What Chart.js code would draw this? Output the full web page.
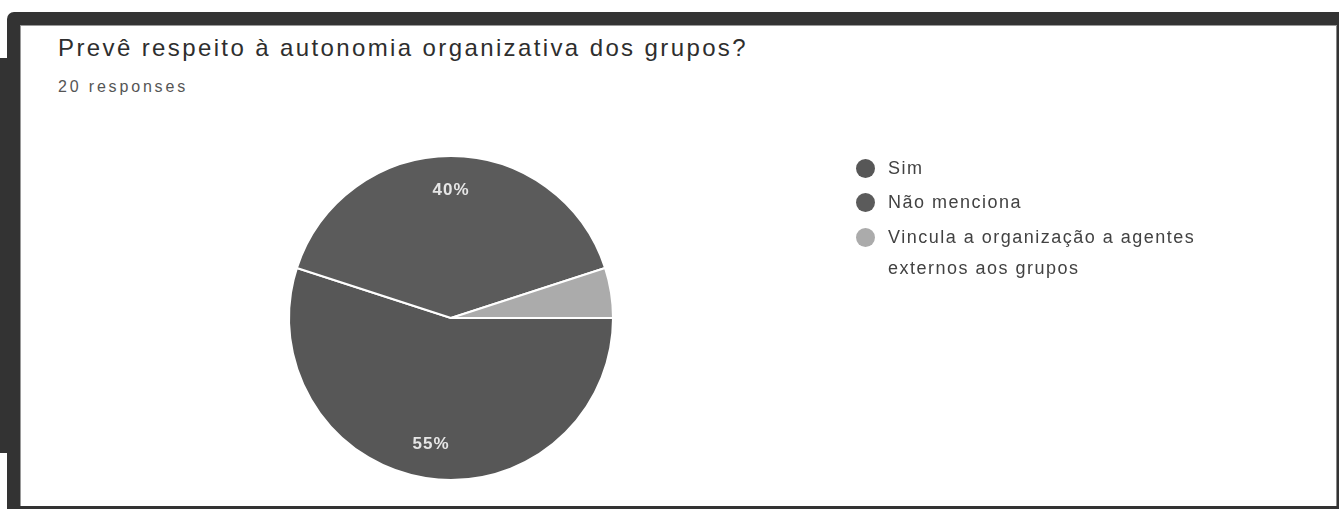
<!DOCTYPE html>
<html>
<head>
<meta charset="utf-8">
<script src="https://cdn.jsdelivr.net/npm/chart.js@4.4.1/dist/chart.umd.min.js"></script>
<style>
  html, body { margin: 0; padding: 0; background: #fff; }
  body { width: 1339px; height: 509px; position: relative; overflow: hidden;
         font-family: "Liberation Sans", Arial, sans-serif; }
  #frame { position: absolute; left: 7px; top: 12px; width: 1332px; height: 497px;
           background: #333; border-top-left-radius: 7px; }
  #leftbar { position: absolute; left: 0; top: 58px; width: 8px; height: 395px; background: #333; }
  #panel { position: absolute; left: 20px; top: 25px; width: 1317px; height: 481px; background: #fff;
           box-shadow: inset 1px 1px 0 #9a9a9a, inset -1px 0 0 #8a8a8a; }
  #title { position: absolute; left: 38px; top: 10.9px; font-size: 24px; line-height: 24px;
           color: #2e2e2e; white-space: nowrap; }
  #subtitle { position: absolute; left: 38px; top: 53.6px; font-size: 16px; line-height: 16px;
              color: #555; white-space: nowrap; }
  #chart { position: absolute; left: 0; top: 0; }
  #legend { position: absolute; left: 835px; top: 127.5px; display: flex; flex-direction: column; gap: 3.5px; }
  .item { position: relative; padding-left: 33px; font-size: 18px; line-height: 31px; color: #424242;
          letter-spacing: 1.5px; max-width: 330px; }
  .dot { position: absolute; left: 1px; top: 6px; width: 19px; height: 19px; border-radius: 50%; }
</style>
</head>
<body>
<div id="frame"></div>
<div id="leftbar"></div>
<div id="panel">
  <div id="title"></div>
  <div id="subtitle"></div>
  <canvas id="chart" width="1317" height="481"></canvas>
  <div id="legend"></div>
</div>
<script>
const titleText = 'Prevê respeito à autonomia organizativa dos grupos?';
const categories = ['Sim', 'Não menciona', 'Vincula a organização a agentes externos aos grupos'];
const responses = [11, 8, 1];
const sliceColors = ['#575757', '#5b5b5b', '#ababab'];

const total = responses.reduce((a, b) => a + b, 0);

// Title and subtitle
const titleEl = document.getElementById('title');
const subEl = document.getElementById('subtitle');
titleEl.textContent = titleText;
subEl.textContent = total + ' responses';
function fitWidth(el, target) {
  el.style.letterSpacing = '0px';
  const w = el.getBoundingClientRect().width;
  const n = el.textContent.length;
  el.style.letterSpacing = ((target - w) / n) + 'px';
}
fitWidth(titleEl, 690);
fitWidth(subEl, 130);

// Legend
const legend = document.getElementById('legend');
categories.forEach((label, i) => {
  const item = document.createElement('div');
  item.className = 'item';
  const dot = document.createElement('span');
  dot.className = 'dot';
  dot.style.background = sliceColors[i];
  item.appendChild(dot);
  item.appendChild(document.createTextNode(label));
  legend.appendChild(item);
});

// Percentage labels inside slices
const pctLabels = {
  id: 'pctLabels',
  afterDatasetsDraw(chart) {
    const meta = chart.getDatasetMeta(0);
    const data = chart.data.datasets[0].data;
    const sum = data.reduce((a, b) => a + b, 0);
    const c = chart.ctx;
    c.save();
    c.font = 'bold 17px "Liberation Sans", Arial, sans-serif';
    c.fillStyle = '#e6e6e6';
    c.textAlign = 'center';
    c.textBaseline = 'middle';
    try { c.letterSpacing = '1px'; } catch (e) {}
    meta.data.forEach((arc, i) => {
      const p = data[i] / sum;
      if (p < 0.1) return;
      const pr = arc.getProps(['x', 'y', 'startAngle', 'endAngle', 'outerRadius'], true);
      const a = (pr.startAngle + pr.endAngle) / 2;
      const r = pr.outerRadius * 0.79;
      c.fillText(Math.round(p * 100) + '%', pr.x + Math.cos(a) * r, pr.y + Math.sin(a) * r);
    });
    c.restore();
  }
};

new Chart(document.getElementById('chart'), {
  type: 'pie',
  data: {
    labels: categories,
    datasets: [{
      data: responses,
      backgroundColor: sliceColors,
      borderColor: '#ffffff',
      borderWidth: 2,
      hoverOffset: 0
    }]
  },
  options: {
    responsive: false,
    animation: false,
    devicePixelRatio: 1,
    rotation: 90,
    events: [],
    layout: { padding: { left: 268, right: 723, top: 130, bottom: 25 } },
    plugins: {
      legend: { display: false },
      tooltip: { enabled: false },
      title: { display: false }
    }
  },
  plugins: [pctLabels]
});
</script>
</body>
</html>
